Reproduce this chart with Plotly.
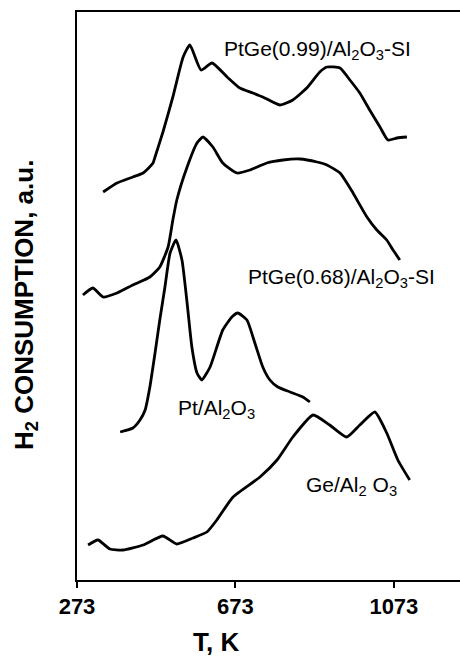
import plotly.graph_objects as go

# Temperature (K) and H2 consumption (a.u.)
t_ptge099 = [339, 374, 414, 440, 465, 470, 490, 515, 541, 558, 586, 614, 652, 684, 717, 742, 785, 818, 853, 886, 904, 937, 962, 987, 1012, 1038, 1058, 1081, 1106]
h_ptge099 = [388, 397, 403, 407, 417, 423, 448, 483, 523, 535, 510, 517, 503, 492, 487, 483, 475, 480, 492, 508, 513, 512, 500, 487, 470, 453, 440, 442, 443]

t_ptge068 = [288, 313, 339, 374, 414, 457, 482, 503, 515, 525, 551, 576, 591, 616, 641, 677, 710, 752, 793, 836, 879, 904, 937, 970, 980, 1005, 1030, 1055, 1071, 1088]
h_ptge068 = [285, 292, 283, 287, 295, 303, 313, 333, 360, 380, 413, 437, 443, 433, 417, 407, 410, 417, 420, 421, 418, 415, 407, 387, 380, 363, 350, 340, 330, 320]

t_pt = [382, 414, 432, 445, 457, 470, 482, 495, 508, 523, 538, 551, 563, 576, 588, 609, 641, 664, 679, 702, 722, 742, 760, 780, 811, 843, 861]
h_pt = [148, 152, 160, 170, 193, 227, 260, 293, 327, 340, 320, 277, 233, 207, 200, 213, 250, 263, 267, 260, 237, 213, 200, 193, 188, 183, 178]

t_ge = [301, 326, 356, 389, 440, 490, 525, 566, 601, 626, 667, 735, 778, 818, 869, 911, 954, 987, 1025, 1055, 1083, 1113]
h_ge = [35, 40, 31, 30, 35, 44, 36, 42, 48, 60, 83, 103, 120, 143, 165, 155, 143, 155, 168, 147, 120, 100]

x_ticks = [273, 673, 1073]

series = [
    (t_ptge099, h_ptge099),
    (t_ptge068, h_ptge068),
    (t_pt, h_pt),
    (t_ge, h_ge),
]

labels = [
    ("PtGe(0.99)/Al<sub>2</sub>O<sub>3</sub>-SI", 879, 530),
    ("PtGe(0.68)/Al<sub>2</sub>O<sub>3</sub>-SI", 942, 302),
    ("Pt/Al<sub>2</sub>O<sub>3</sub>", 626, 171),
    ("Ge/Al<sub>2</sub> O<sub>3</sub>", 967, 94),
]

FONT = "Liberation Sans, Arial, sans-serif"

fig = go.Figure()
for tx, hy in series:
    fig.add_trace(go.Scatter(
        x=tx, y=hy, mode="lines",
        line=dict(color="black", width=2.8, shape="spline", smoothing=0.5),
        showlegend=False, hoverinfo="skip",
    ))

for text, xv, yv in labels:
    fig.add_annotation(
        x=xv, y=yv, xref="x", yref="y", text=text, showarrow=False,
        xanchor="center", yanchor="middle",
        font=dict(family=FONT, size=21, color="black"),
    )

fig.add_annotation(
    x=-0.136, y=0.484, xref="paper", yref="paper",
    text="H<sub>2</sub> CONSUMPTION, a.u.", textangle=-90, showarrow=False,
    xanchor="center", yanchor="middle",
    font=dict(family=FONT, size=26, color="black", weight="bold"),
)
fig.add_annotation(
    x=0.363, y=-0.109, xref="paper", yref="paper",
    text="T, K", showarrow=False, xanchor="center", yanchor="middle",
    font=dict(family=FONT, size=26, color="black", weight="bold"),
)

fig.update_xaxes(
    range=[273, 1240], tickvals=x_ticks, ticktext=[str(v) for v in x_ticks],
    showline=True, linecolor="black", linewidth=2, mirror=True,
    ticks="outside", ticklen=6, tickwidth=2, tickcolor="black",
    tickfont=dict(family=FONT, size=22, color="black", weight="bold"),
    showgrid=False, zeroline=False,
)
fig.update_yaxes(
    range=[0, 568], showline=True, linecolor="black", linewidth=2, mirror=False,
    showticklabels=False, ticks="", showgrid=False, zeroline=False,
)

fig.update_layout(
    width=460, height=656,
    margin=dict(l=77, r=0, t=12, b=76),
    paper_bgcolor="white", plot_bgcolor="white",
)

fig.write_html("out.html")
